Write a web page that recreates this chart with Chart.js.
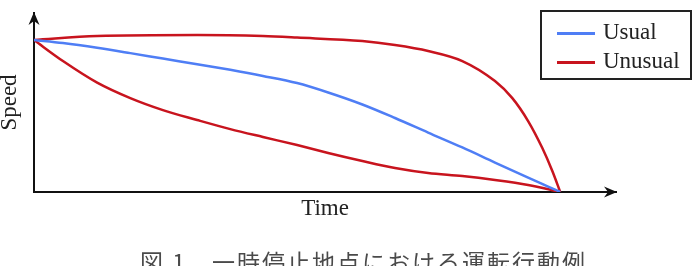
<!DOCTYPE html>
<html>
<head>
<meta charset="utf-8">
<script src="https://cdn.jsdelivr.net/npm/chart.js@4/dist/chart.umd.min.js"></script>
<style>
  html, body { margin: 0; padding: 0; background: #fff; overflow: hidden; }
  #wrap { position: relative; width: 694px; height: 266px; }
  #legend {
    position: absolute; left: 540px; top: 10px; width: 148px; height: 66px;
    border: 2px solid #222; font-family: "Liberation Serif", serif; font-size: 23px; color: #222;
  }
  .item { position: absolute; left: 15px; height: 28px; line-height: 28px; white-space: nowrap; }
  .item span.swatch { display: inline-block; width: 38px; height: 3px; vertical-align: middle; margin-right: 8px; }
  #caption {
    position: absolute; left: 140px; top: 244px; white-space: pre;
    font-family: "Noto Sans CJK JP", sans-serif; font-size: 23px; letter-spacing: 2px; color: #4a4a4a;
  }
</style>
</head>
<body>
<div id="wrap">
  <canvas id="speedChart" width="694" height="266"></canvas>
  <div id="legend"></div>
  <div id="caption">図 1　一時停止地点における運転行動例</div>
</div>
<script>
// normalised time (0 = start, 1 = stop) and speed
const timeUsual  = [0, 0.055, 0.12, 0.183, 0.245, 0.31, 0.373, 0.435, 0.5, 0.559, 0.624, 0.686, 0.749, 0.814, 0.876, 0.939, 0.977, 1];
const speedUsual = [1, 0.98, 0.949, 0.914, 0.878, 0.841, 0.804, 0.764, 0.717, 0.655, 0.576, 0.487, 0.391, 0.293, 0.194, 0.095, 0.036, 0];

const timeLate  = [0, 0.12, 0.31, 0.435, 0.5, 0.624, 0.686, 0.749, 0.814, 0.876, 0.909, 0.939, 0.966, 0.985, 1];
const speedLate = [1, 1.026, 1.033, 1.026, 1.016, 0.993, 0.967, 0.928, 0.862, 0.73, 0.618, 0.467, 0.289, 0.138, 0];

const timeEarly  = [0, 0.055, 0.12, 0.183, 0.245, 0.31, 0.373, 0.435, 0.5, 0.559, 0.624, 0.686, 0.749, 0.814, 0.876, 0.939, 1];
const speedEarly = [1, 0.862, 0.72, 0.618, 0.539, 0.474, 0.414, 0.362, 0.309, 0.257, 0.204, 0.158, 0.125, 0.105, 0.079, 0.046, 0];

const legendLabels = ['Usual', 'Unusual'];
const legendColors = ['#4f7ef5', '#c8141e'];

function toPoints(xs, ys) {
  return xs.map((x, i) => ({ x: x, y: ys[i] }));
}

// arrowheads at the ends of both axes
const axisArrows = {
  id: 'axisArrows',
  afterDraw(chart) {
    const { ctx, chartArea } = chart;
    ctx.save();
    ctx.fillStyle = '#111';
    // y axis, pointing up
    let x = chartArea.left, y = chartArea.top - 1;
    ctx.beginPath();
    ctx.moveTo(x, y);
    ctx.lineTo(x - 5.5, y + 13);
    ctx.lineTo(x, y + 9);
    ctx.lineTo(x + 5.5, y + 13);
    ctx.closePath();
    ctx.fill();
    // x axis, pointing right
    x = chartArea.right + 1; y = chartArea.bottom;
    ctx.beginPath();
    ctx.moveTo(x, y);
    ctx.lineTo(x - 13, y - 5.5);
    ctx.lineTo(x - 9, y);
    ctx.lineTo(x - 13, y + 5.5);
    ctx.closePath();
    ctx.fill();
    ctx.restore();
  }
};

const lineStyle = {
  borderWidth: 2.5,
  pointRadius: 0,
  fill: false,
  cubicInterpolationMode: 'monotone'
};

const ctx = document.getElementById('speedChart').getContext('2d');
const chart = new Chart(ctx, {
  type: 'line',
  data: {
    datasets: [
      Object.assign({ label: legendLabels[0], data: toPoints(timeUsual, speedUsual), borderColor: legendColors[0] }, lineStyle),
      Object.assign({ label: legendLabels[1], data: toPoints(timeLate, speedLate), borderColor: legendColors[1] }, lineStyle),
      Object.assign({ label: legendLabels[1], data: toPoints(timeEarly, speedEarly), borderColor: legendColors[1] }, lineStyle)
    ]
  },
  options: {
    responsive: false,
    animation: false,
    layout: { padding: { left: 0, top: 13, right: 78, bottom: 0 } },
    plugins: {
      legend: { display: false },
      tooltip: { enabled: false }
    },
    scales: {
      x: {
        type: 'linear',
        min: 0,
        max: 1.106,
        ticks: { display: false },
        grid: { display: false },
        border: { display: true, color: '#111', width: 2 },
        title: {
          display: true,
          text: 'Time',
          color: '#222',
          font: { family: "'Liberation Serif', serif", size: 23, lineHeight: 1 },
          padding: { top: 0, bottom: 46 }
        },
        afterFit: (scale) => { scale.height = 74; }
      },
      y: {
        min: 0,
        max: 1.178,
        ticks: { display: false },
        grid: { display: false },
        border: { display: true, color: '#111', width: 2 },
        title: {
          display: true,
          text: 'Speed',
          color: '#222',
          font: { family: "'Liberation Serif', serif", size: 23, lineHeight: 0.85 },
          padding: { top: 0, bottom: 0 }
        },
        afterFit: (scale) => { scale.width = 34; }
      }
    }
  },
  plugins: [axisArrows]
});

// legend box built from the series names and colours
const legendEl = document.getElementById('legend');
legendLabels.forEach((name, i) => {
  const item = document.createElement('div');
  item.className = 'item';
  item.style.top = (6 + i * 29) + 'px';
  item.innerHTML = '<span class="swatch" style="background:' + legendColors[i] + '"></span>' + name;
  legendEl.appendChild(item);
});
</script>
</body>
</html>
